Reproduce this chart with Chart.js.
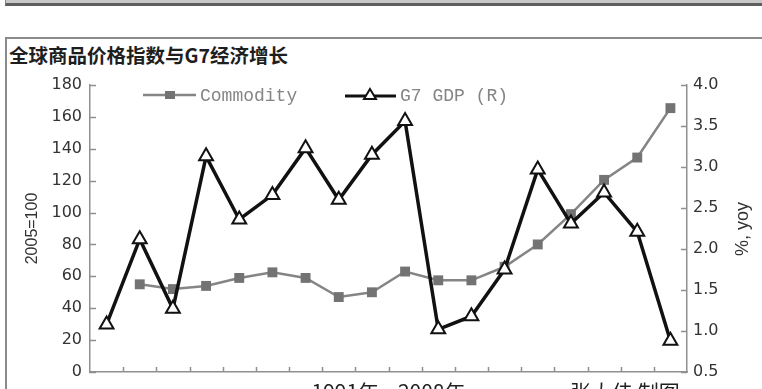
<!DOCTYPE html>
<html>
<head>
<meta charset="utf-8">
<script src="https://cdn.jsdelivr.net/npm/chart.js@4.4.1/dist/chart.umd.min.js"></script>
<style>
  html, body { margin: 0; padding: 0; background: #fff; width: 762px; height: 389px; overflow: hidden; }
  #topbar { position: absolute; left: 5px; top: 0; width: 757px; height: 3px; background: #c8c8c8;
            border-bottom: 3px solid #5e5e5e; border-left: 1px solid #8a8a8a; }
  #box { position: absolute; left: 5px; top: 37px; width: 770px; height: 420px;
         border-left: 2px solid #8a8a8a; border-top: 2px solid #8a8a8a; }
  #title { position: absolute; left: 9px; top: 44px; font: bold 19.5px "Noto Sans CJK SC"; color: #1e1e1e;
           line-height: 21px; white-space: nowrap; }
  #credit { position: absolute; left: 570px; top: 381px; font: 21px "Noto Sans CJK SC"; color: #222;
            line-height: 21px; white-space: nowrap; }
  #wrap { position: absolute; left: 0; top: 0; width: 762px; height: 420px; }
</style>
</head>
<body>
<div id="topbar"></div>
<div id="box"></div>
<div id="title">全球商品价格指数与G7经济增长</div>
<div id="wrap"><canvas id="chart"></canvas></div>
<div id="credit">张大佳 制图</div>
<script>
// Years on the category axis
const years = ['1991', '1992', '1993', '1994', '1995', '1996', '1997', '1998', '1999',
               '2000', '2001', '2002', '2003', '2004', '2005', '2006', '2007', '2008'];
// Commodity price index (2005=100), left axis
const commodity = [null, 55, 52, 54, 59, 62.5, 59, 47, 50, 63, 57.5, 57.5, 66, 80, 99, 120.5, 134.5, 165.5];
// G7 GDP growth (% yoy), right axis
const g7Gdp = [1.08, 2.12, 1.27, 3.13, 2.36, 2.66, 3.23, 2.60, 3.15, 3.56, 1.02, 1.18, 1.75, 2.97, 2.31, 2.69, 2.21, 0.88];
// Axis ranges
const leftAxisRange = [0, 180, 20];
const rightAxisRange = [0.5, 4.0, 0.5];
// Texts
const seriesNames = ['Commodity', 'G7 GDP (R)'];
const leftAxisTitle = '2005=100';
const rightAxisTitle = '%, yoy';
const xAxisTitle = '1991年—2008年';

const AXIS_COLOR = '#909090';
const TICK_FONT = { family: 'DejaVu Sans', size: 16 };

// Inward tick marks on all three axes
const innerTicks = {
  id: 'innerTicks',
  afterDraw(chart) {
    const ctx = chart.ctx;
    const { x, yL, yR } = chart.scales;
    ctx.save();
    ctx.strokeStyle = AXIS_COLOR;
    ctx.lineWidth = 1.5;
    ctx.beginPath();
    yL.ticks.forEach(t => {
      const py = Math.round(yL.getPixelForValue(t.value)) + 0.5;
      ctx.moveTo(yL.right, py); ctx.lineTo(yL.right + 6, py);
    });
    yR.ticks.forEach(t => {
      const py = Math.round(yR.getPixelForValue(t.value)) + 0.5;
      ctx.moveTo(yR.left - 6, py); ctx.lineTo(yR.left, py);
    });
    for (let i = 1; i < x.ticks.length; i++) {
      const px = Math.round((x.getPixelForTick(i - 1) + x.getPixelForTick(i)) / 2) + 0.5;
      ctx.moveTo(px, x.top); ctx.lineTo(px, x.top - 5);
    }
    ctx.stroke();

    // right axis title, reading bottom to top
    ctx.fillStyle = '#333';
    ctx.font = '18px "Liberation Sans"';
    ctx.textAlign = 'center';
    ctx.textBaseline = 'middle';
    ctx.translate(743, 229);
    ctx.rotate(-Math.PI / 2);
    ctx.fillText(rightAxisTitle, 0, 0);
    ctx.restore();
  }
};

// Legend row at the top of the plot
const topLegend = {
  id: 'topLegend',
  afterDraw(chart) {
    const ctx = chart.ctx;
    const [dsC, dsG] = chart.data.datasets;
    ctx.save();
    // Commodity
    ctx.strokeStyle = dsC.borderColor;
    ctx.lineWidth = 2.5;
    ctx.beginPath(); ctx.moveTo(143, 95); ctx.lineTo(196, 95); ctx.stroke();
    ctx.fillStyle = dsC.pointBackgroundColor;
    ctx.fillRect(165, 91, 10, 8);
    // G7 GDP
    ctx.strokeStyle = dsG.borderColor;
    ctx.lineWidth = 3;
    ctx.beginPath(); ctx.moveTo(345, 96); ctx.lineTo(396, 96); ctx.stroke();
    ctx.beginPath();
    ctx.moveTo(370, 89); ctx.lineTo(376, 99); ctx.lineTo(364, 99); ctx.closePath();
    ctx.fillStyle = '#fff'; ctx.fill();
    ctx.lineWidth = 2; ctx.stroke();
    // labels
    ctx.fillStyle = '#858585';
    ctx.font = '18px "Liberation Mono"';
    ctx.textAlign = 'left';
    ctx.textBaseline = 'middle';
    ctx.fillText(dsC.label, 200, 96);
    ctx.fillText(dsG.label, 400, 96);
    ctx.restore();
  }
};

new Chart(document.getElementById('chart'), {
  type: 'line',
  data: {
    labels: years,
    datasets: [
      {
        label: seriesNames[0],
        data: commodity,
        yAxisID: 'yL',
        order: 1,
        borderColor: '#858585',
        borderWidth: 2.5,
        pointStyle: 'rect',
        pointRadius: 7,
        pointBackgroundColor: '#737373',
        pointBorderColor: '#737373',
        pointBorderWidth: 0,
        tension: 0
      },
      {
        label: seriesNames[1],
        data: g7Gdp,
        yAxisID: 'yR',
        order: 0,
        borderColor: '#111',
        borderWidth: 3.5,
        pointStyle: 'triangle',
        pointRadius: 8,
        pointBackgroundColor: '#fff',
        pointBorderColor: '#111',
        pointBorderWidth: 2,
        tension: 0
      }
    ]
  },
  options: {
    responsive: true,
    maintainAspectRatio: false,
    devicePixelRatio: 1,
    animation: false,
    events: [],
    layout: { padding: { top: 85, left: 0, right: 0, bottom: 0 } },
    plugins: { legend: { display: false }, title: { display: false }, tooltip: { enabled: false } },
    scales: {
      x: {
        type: 'category',
        offset: true,
        grid: { display: false, drawTicks: false },
        border: { display: true, color: AXIS_COLOR, width: 1.5 },
        ticks: { display: false },
        title: {
          display: true, text: xAxisTitle, color: '#222',
          font: { family: 'Noto Sans CJK SC', size: 21, lineHeight: 1.2 },
          padding: { top: 0, bottom: 15 }
        },
        afterFit(s) { s.height = 48; }
      },
      yL: {
        position: 'left',
        min: leftAxisRange[0], max: leftAxisRange[1],
        grid: { display: false, drawTicks: false },
        border: { display: true, color: AXIS_COLOR, width: 1.5 },
        ticks: { stepSize: leftAxisRange[2], color: '#333', font: TICK_FONT, padding: 8 },
        title: {
          display: true, text: leftAxisTitle, color: '#333',
          font: { family: 'Liberation Sans', size: 16, lineHeight: 1.2 },
          padding: { top: 23, bottom: 0 }
        },
        afterFit(s) { s.width = 90; }
      },
      yR: {
        position: 'right',
        min: rightAxisRange[0], max: rightAxisRange[1],
        grid: { display: false, drawTicks: false },
        border: { display: true, color: AXIS_COLOR, width: 1.5 },
        ticks: {
          stepSize: rightAxisRange[2], color: '#333', font: TICK_FONT, padding: 6,
          callback: v => Number(v).toFixed(1)
        },
        afterFit(s) { s.width = 75; }
      }
    }
  },
  plugins: [innerTicks, topLegend]
});
</script>
</body>
</html>
